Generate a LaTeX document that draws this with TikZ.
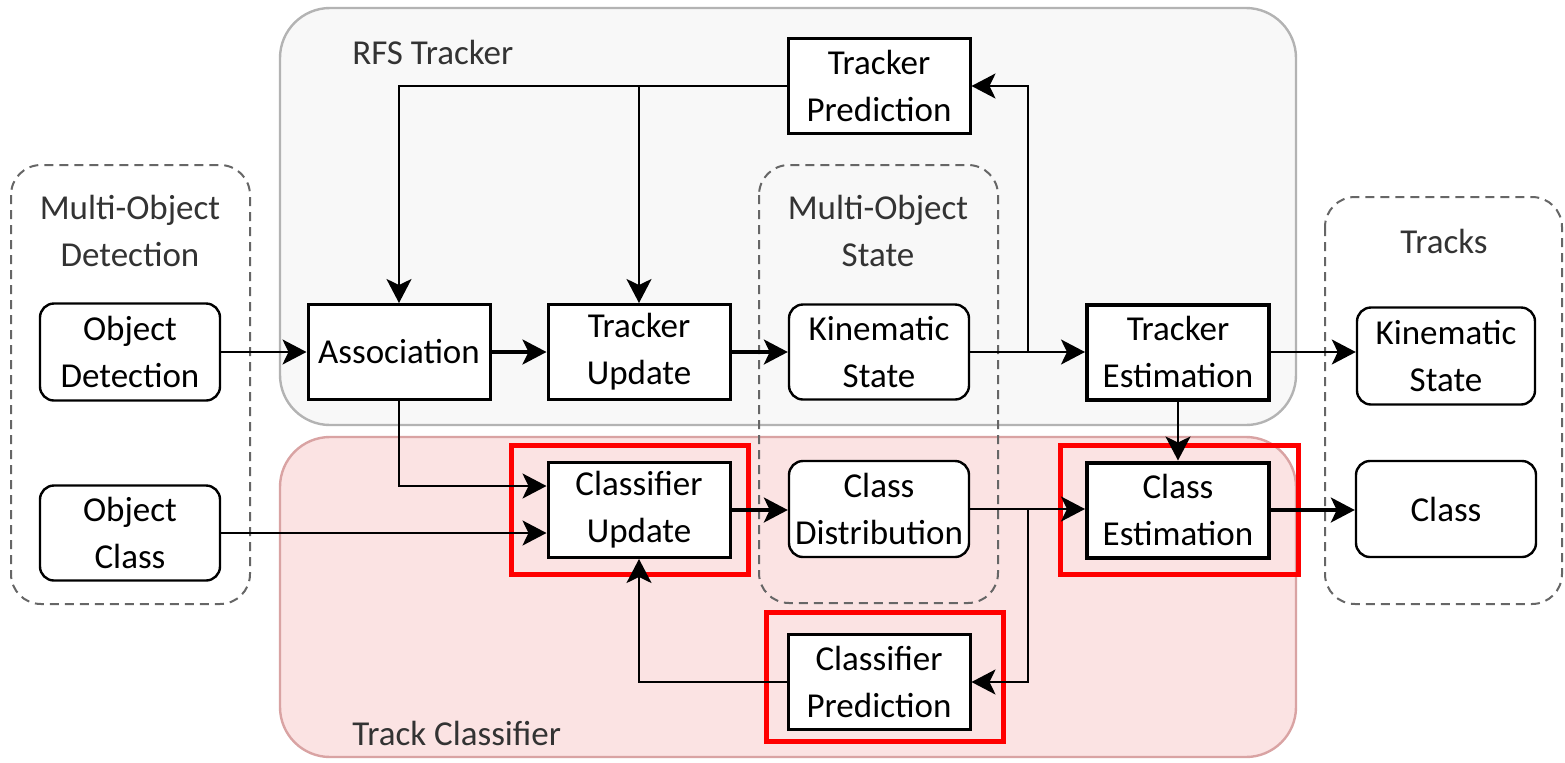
\documentclass[tikz,border=0pt]{standalone}
\usepackage{fontspec}
\setmainfont{Carlito}
\usetikzlibrary{arrows.meta,calc}
\definecolor{rfsfill}{HTML}{F8F8F8}
\definecolor{rfsline}{HTML}{B3B3B3}
\definecolor{tcfill}{HTML}{FBE3E3}
\definecolor{tcline}{HTML}{D9A3A3}
\definecolor{dashgray}{HTML}{666666}
\definecolor{labelgray}{HTML}{333333}
\definecolor{hlred}{HTML}{FF0000}
\begin{document}
\begin{tikzpicture}[x=0.5pt,y=-0.5pt,
  >={Stealth[length=12pt,width=12.5pt,inset=3pt]},
  txt/.style={font=\fontsize{17.5}{23.5}\selectfont,align=center},
  sqbox/.style={txt,draw=black,fill=white,line width=1.5pt,
    minimum width=91pt,minimum height=47.5pt,inner sep=0pt},
  estbox/.style={sqbox,line width=2pt},
  rdbox/.style={txt,draw=black,fill=white,line width=1.2pt,rounded corners=7pt,
    minimum width=90pt,minimum height=47.5pt,inner sep=0pt},
  group/.style={line width=1.2pt,rounded corners=25pt},
  dashgroup/.style={draw=dashgray,line width=1pt,dash pattern=on 4.5pt off 3pt,rounded corners=15pt},
  hilite/.style={draw=hlred,line width=2.5pt},
  grouplabel/.style={txt,text=labelgray,inner sep=0pt},
  conn/.style={->,line width=1.1pt},
  boldconn/.style={->,line width=1.6pt}]
\useasboundingbox (0,0) rectangle (1565,762);

% subsystem panels
\draw[group,fill=rfsfill,draw=rfsline] (280,8) rectangle (1296,425);
\draw[group,fill=tcfill,draw=tcline] (280,437) rectangle (1296,757);
\node[grouplabel,anchor=west] (rfslabel) at (352,52) {RFS Tracker};
\node[grouplabel,anchor=west] (tclabel) at (352,733) {Track Classifier};

% dashed groupings
\draw[dashgroup] (11,165) rectangle (250,604);
\draw[dashgroup] (759,165) rectangle (998,603);
\draw[dashgroup] (1325,197) rectangle (1562,604);
\node[grouplabel] (modlabel) at (130,231) {Multi-Object\\Detection};
\node[grouplabel] (moslabel) at (878,231) {Multi-Object\\State};
\node[grouplabel] (trklabel) at (1444,241) {Tracks};

% highlighted classifier steps
\draw[hilite] (511,445) rectangle (748,574);
\draw[hilite] (1060,445) rectangle (1298,574);
\draw[hilite] (766,612) rectangle (1003,741);

% blocks
\node[rdbox,minimum height=48.5pt] (od) at (130,352) {Object\\Detection};
\node[rdbox] (oc) at (130,533) {Object\\Class};
\node[sqbox] (as) at (399,352) {Association};
\node[sqbox] (tu) at (639,352) {Tracker\\Update};
\node[rdbox] (ks1) at (879,352) {Kinematic\\State};
\node[estbox] (te) at (1178,352) {Tracker\\Estimation};
\node[rdbox,minimum width=89pt,minimum height=48.5pt] (ks2) at (1446,356) {Kinematic\\State};
\node[sqbox] (tp) at (879,86) {Tracker\\Prediction};
\node[sqbox] (cu) at (639,510) {Classifier\\Update};
\node[rdbox,minimum height=48pt] (cd) at (879,509) {Class\\Distribution};
\node[estbox] (ce) at (1178,510) {Class\\Estimation};
\node[rdbox,minimum height=48pt] (cls) at (1446,509) {Class};
\node[sqbox] (cp) at (879,682) {Classifier\\Prediction};

% branch points
\coordinate (jt) at (1028,352);
\coordinate (jc) at (1028,509);

% tracker flow
\draw[conn] (od.east) -- (as.west);
\draw[boldconn] (as.east) -- (tu.west);
\draw[boldconn] (tu.east) -- (ks1.west);
\draw[conn] (ks1.east) -- (te.west);
\draw[conn] (jt) |- (tp.east);
\draw[conn] (tp.west) -| (as.north);
\draw[conn] (tp.west -| tu.north) -- (tu.north);
\draw[conn] (te.east) -- (te.east -| ks2.west);
\draw[conn] (te.south) -- (ce.north);

% classifier flow
\draw[conn] (as.south) |- ($(cu.west)+(0,-24)$);
\draw[conn] (oc.east) -- (oc.east -| cu.west);
\draw[boldconn] (cu.east) -- (cu.east -| cd.west);
\draw[conn] (cd.east) -- (cd.east -| ce.west);
\draw[conn] (jc) |- (cp.east);
\draw[conn] (cp.west) -| (cu.south);
\draw[boldconn] (ce.east) -- (ce.east -| cls.west);
\end{tikzpicture}
\end{document}
